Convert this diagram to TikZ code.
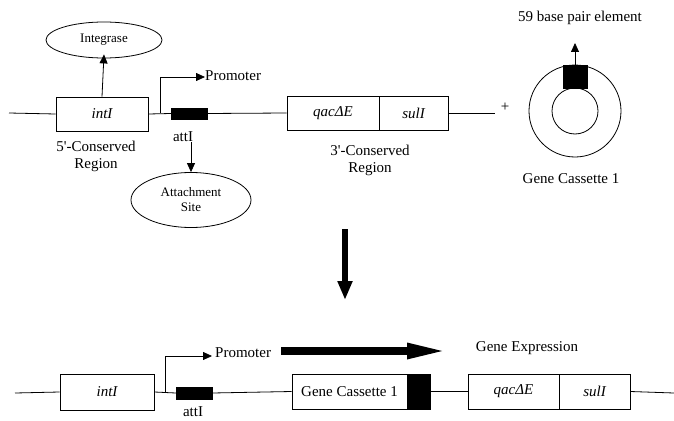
\documentclass[tikz,border=0pt]{standalone}
\usepackage{fontspec}
\setmainfont{Liberation Serif}
\usetikzlibrary{arrows.meta,shapes.geometric}
\tikzset{
  wire/.style={line width=0.8pt},
  genebox/.style={draw, line width=0.8pt, rectangle, inner sep=0pt, font=\fontsize{15}{17}\selectfont\itshape},
  blackbox/.style={draw, fill=black, rectangle, inner sep=0pt},
  oval/.style={draw, line width=0.8pt, ellipse, inner sep=0pt, align=center, font=\fontsize{13}{15}\selectfont},
  lbl/.style={inner sep=0pt, align=center, font=\fontsize{15}{17}\selectfont},
  smallarrow/.style={line width=0.8pt, -{Triangle[width=8pt,length=9pt]}},
}
\begin{document}
\begin{tikzpicture}[x=1pt,y=-1pt]
\useasboundingbox (0,0) rectangle (674,420);
% ---------- top row ----------
\coordinate (L1) at (9,113);
\coordinate (R1) at (495,113);
\node[genebox, minimum width=92pt, minimum height=34pt] (intI1) at (102,114) {intI};
\node[blackbox, minimum width=36pt, minimum height=11pt] (attI1) at (189,113.5) {};
\node[genebox, minimum width=92pt, minimum height=34pt] (qac1) at (333,113) {qac\textit{Δ}E};
\node[genebox, minimum width=69pt, minimum height=34pt] (sul1) at (413.5,113) {sulI};
\draw[wire] (L1) -- (intI1.west);
\draw[wire] (intI1.east) -- (attI1.west);
\draw[wire] (attI1.east) -- (qac1.west);
\draw[wire] (sul1.east) -- (R1);
% promoter
\coordinate (P1) at (160,113);
\coordinate (PT1) at (205,77);
\node[lbl, anchor=west] (prom1) at (205,75.5) {Promoter};
\draw[smallarrow] (P1) |- (PT1);
% integrase
\node[oval, minimum width=116pt, minimum height=36pt] (integ) at (104,40) {Integrase};
\draw[smallarrow] (intI1.north) -- ([yshift=4pt]integ.south);
% attI label and attachment site
\node[lbl] (attlab1) at (183,137) {attI};
\node[oval, minimum width=120pt, minimum height=55pt] (attach) at (191,200) {Attachment\\Site};
\coordinate (AA) at (191,142);
\draw[smallarrow] (AA) -- (attach.north);
% region labels
\node[lbl] (r5) at (96,156) {5\textquotesingle-Conserved\\Region};
\node[lbl] (r3) at (370,160) {3\textquotesingle-Conserved\\Region};
\node[lbl] (plus) at (505,107) {+};
% gene cassette circle
\node[draw, circle, line width=0.8pt, minimum size=92pt, inner sep=0pt] (outer) at (575,111) {};
\node[draw, circle, line width=0.8pt, minimum size=46pt, inner sep=0pt] (inner) at (575,111) {};
\node[blackbox, minimum width=24pt, minimum height=23pt] (sq) at (575,76.5) {};
\coordinate (SQT) at (575,43);
\draw[smallarrow] (sq.north) -- (SQT);
\node[lbl] (bp) at (580,18) {59 base pair element};
\node[lbl] (gc1) at (571,179) {Gene Cassette 1};
% ---------- big down arrow ----------
\coordinate (DA) at (345,229);
\coordinate (DB) at (345,300);
\draw[line width=6pt, -{Triangle[width=14pt,length=19pt]}] (DA) -- (DB);
% ---------- bottom row ----------
\coordinate (L2) at (15,393);
\coordinate (R2) at (674,393);
\node[genebox, minimum width=94pt, minimum height=36pt] (intI2) at (107,392) {intI};
\node[blackbox, minimum width=36pt, minimum height=12pt] (attI2) at (194,393) {};
\node[genebox, minimum width=115pt, minimum height=35pt, font=\fontsize{15}{17}\selectfont] (gc2) at (349.5,391.5) {Gene Cassette 1};
\node[blackbox, line width=0.8pt, minimum width=23pt, minimum height=35pt] (gcb) at (418.5,391.5) {};
\node[genebox, minimum width=91pt, minimum height=35pt] (qac2) at (513.5,391.5) {qac\textit{Δ}E};
\node[genebox, minimum width=71pt, minimum height=35pt] (sul2) at (594.5,391.5) {sulI};
\draw[wire] (L2) -- (intI2.west);
\draw[wire] (intI2.east) -- (attI2.west);
\draw[wire] (attI2.east) -- (gc2.west);
\draw[wire] (gcb.east) -- (qac2.west);
\draw[wire] (sul2.east) -- (R2);
\coordinate (P2) at (165,393);
\coordinate (PT2) at (212,356);
\draw[smallarrow] (P2) |- (PT2);
\node[lbl, anchor=west] (prom2) at (215,353) {Promoter};
\node[lbl, anchor=south, outer sep=0pt] (attlab2) at (193,417) {attI};
% expression arrow
\coordinate (EA) at (281,351);
\coordinate (EB) at (450,351);
\draw[line width=8pt, -{Triangle[width=14pt,length=43pt]}] (EA) -- (EB);
\node[lbl] (expr) at (527,348) {Gene Expression};
\end{tikzpicture}
\end{document}
